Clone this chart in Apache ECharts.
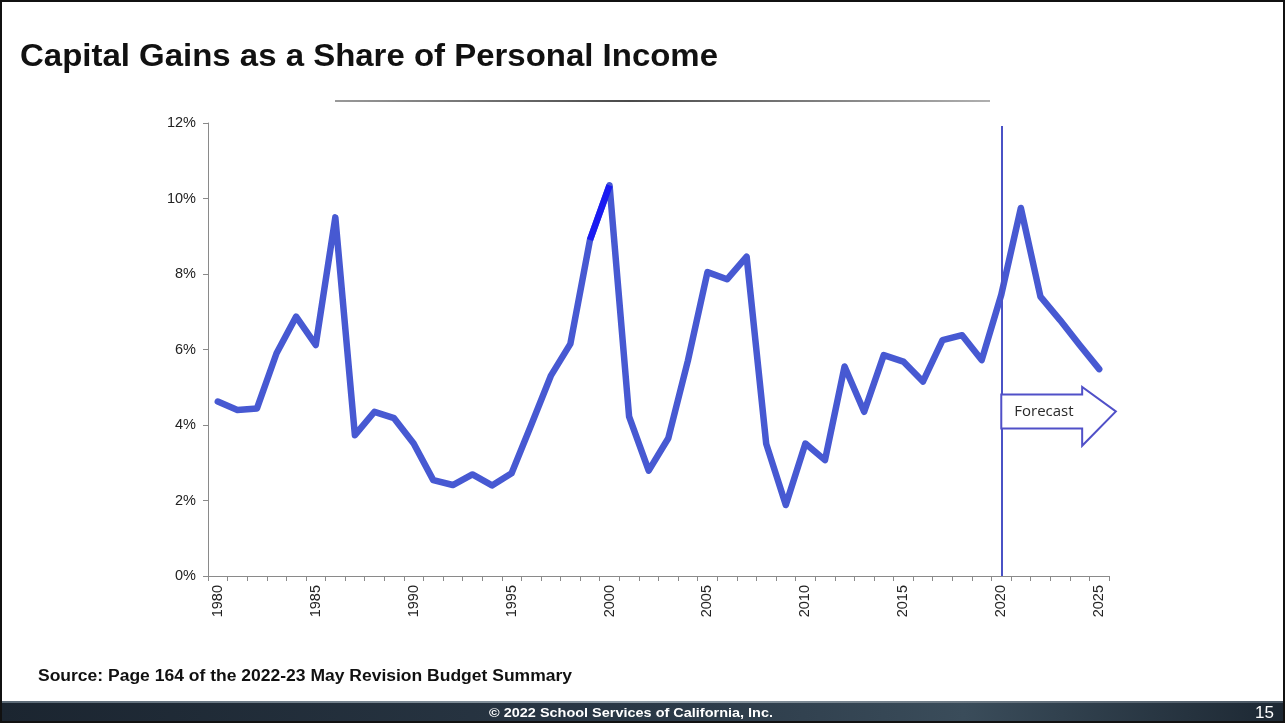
<!DOCTYPE html>
<html>
<head>
<meta charset="utf-8">
<script src="https://cdn.jsdelivr.net/npm/echarts@6/dist/echarts.min.js"></script>
<style>
  html, body { margin: 0; padding: 0; background: #ffffff; }
  #chart { width: 1285px; height: 723px; }
</style>
</head>
<body>
<div id="chart"></div>
<script>
// Years shown on the category axis
const years = [];
for (let y = 1980; y <= 2025; y++) years.push(String(y));

// Capital gains as a share of personal income (%), 1980–2025
const shareValues = [
  4.62, 4.40, 4.44, 5.90, 6.87, 6.12, 9.50, 3.73, 4.35, 4.18,
  3.51, 2.54, 2.41, 2.69, 2.40, 2.72, 4.00, 5.30, 6.15, 8.90,
  10.35, 4.22, 2.79, 3.65, 5.70, 8.05, 7.86, 8.46, 3.50, 1.88,
  3.51, 3.07, 5.55, 4.35, 5.85, 5.68, 5.15, 6.25, 6.38, 5.72,
  7.45, 9.75, 7.40, 6.78, 6.12, 5.48
];

// The 1999–2000 run is drawn in a brighter blue
const highlightYears = ['1999', '2000'];

// Year where the forecast starts
const forecastStart = '2020';

// Text
const titleText = 'Capital Gains as a Share of Personal Income';
const sourceText = 'Source: Page 164 of the 2022-23 May Revision Budget Summary';
const footerText = '\u00A9 2022 School Services of California, Inc.';
const pageNumber = '15';
const forecastLabel = 'Forecast';

const highlightValues = years.map((y, i) => highlightYears.includes(y) ? shareValues[i] : null);

const chart = echarts.init(document.getElementById('chart'), null, { renderer: 'canvas' });

const axisGrey = '#8a8a8a';
const lineBlue = '#4759d2';
const labelFont = '"Liberation Sans", Arial, sans-serif';

// horizontal scale that makes a text run fill a given width
const measureCtx = document.createElement('canvas').getContext('2d');
function fitScale(text, font, width) {
  measureCtx.font = font;
  return width / measureCtx.measureText(text).width;
}

const option = {
  backgroundColor: '#ffffff',
  animation: false,
  grid: { left: 208, right: 176, top: 123, bottom: 147, containLabel: false },
  xAxis: {
    type: 'category',
    data: years,
    boundaryGap: true,
    axisLine: { lineStyle: { color: axisGrey, width: 1 } },
    axisTick: { show: true, interval: 0, length: 5, lineStyle: { color: axisGrey } },
    axisLabel: {
      interval: 4,
      rotate: 90,
      margin: 9,
      fontFamily: labelFont,
      fontSize: 14.5,
      color: '#222222'
    },
    splitLine: { show: false }
  },
  yAxis: {
    type: 'value',
    min: 0,
    max: 12,
    interval: 2,
    axisLine: { show: true, lineStyle: { color: axisGrey, width: 1 } },
    axisTick: { show: true, length: 5, lineStyle: { color: axisGrey } },
    axisLabel: {
      formatter: '{value}%',
      margin: 12,
      fontFamily: labelFont,
      fontSize: 14.5,
      color: '#222222'
    },
    splitLine: { show: false }
  },
  series: [
    {
      type: 'line',
      data: shareValues,
      symbol: 'none',
      lineStyle: { color: lineBlue, width: 6.5, join: 'round', cap: 'round' },
      markLine: {
        silent: true,
        symbol: ['none', 'none'],
        label: { show: false },
        lineStyle: { color: '#4a52c6', width: 2, type: 'solid' },
        data: [[{ coord: [forecastStart, 11.92] }, { coord: [forecastStart, 0] }]]
      },
      z: 3
    },
    {
      type: 'line',
      data: highlightValues,
      symbol: 'none',
      connectNulls: false,
      lineStyle: { color: '#1a1af2', width: 6.5, cap: 'butt' },
      z: 4
    }
  ]
};

chart.setOption(option);

// Texts, frame and annotations positioned around the plot
function drawAnnotations() {
  const startIdx = years.indexOf(forecastStart);
  const x0 = chart.convertToPixel({ xAxisIndex: 0 }, startIdx);
  const x1 = chart.convertToPixel({ xAxisIndex: 0 }, startIdx + 1);
  const step = x1 - x0;
  const py = v => chart.convertToPixel({ yAxisIndex: 0 }, v);

  const shaftTop = py(4.81), shaftBottom = py(3.91);
  const headTop = py(5.01), headBottom = py(3.45);
  const tipY = (shaftTop + shaftBottom) / 2;
  const headBaseX = x0 + step * 4.13;
  const tipX = x0 + step * 5.85;

  const titleFont = 'bold 32px "Liberation Sans", Arial, sans-serif';
  const sourceFont = 'bold 16px "Liberation Sans", Arial, sans-serif';
  const footerFont = 'bold 13px "Liberation Sans", Arial, sans-serif';

  chart.setOption({
    graphic: [
      // slide frame
      {
        type: 'rect', z: 100, silent: true,
        shape: { x: 1, y: 1, width: 1283, height: 721 },
        style: { fill: 'none', stroke: '#111111', lineWidth: 2 }
      },
      // slide title
      {
        type: 'text', z: 7, silent: true,
        x: 20, y: 57,
        scaleX: fitScale(titleText, titleFont, 698),
        style: {
          text: titleText,
          fill: '#111111',
          font: titleFont,
          verticalAlign: 'middle'
        }
      },
      // thin rule under the title
      {
        type: 'line', z: 5, silent: true,
        shape: { x1: 335, y1: 101, x2: 990, y2: 101 },
        style: {
          stroke: new echarts.graphic.LinearGradient(0, 0, 1, 0, [
            { offset: 0, color: '#9a9a9a' },
            { offset: 0.45, color: '#4a4a4a' },
            { offset: 1, color: '#b0b0b0' }
          ]),
          lineWidth: 2
        }
      },
      // forecast arrow
      {
        type: 'polygon', z: 6, silent: true,
        shape: {
          points: [
            [x0, shaftTop], [headBaseX, shaftTop], [headBaseX, headTop],
            [tipX, tipY], [headBaseX, headBottom], [headBaseX, shaftBottom],
            [x0, shaftBottom]
          ]
        },
        style: { fill: '#ffffff', stroke: '#5050c8', lineWidth: 2 }
      },
      {
        type: 'text', z: 7, silent: true,
        x: x0 + 13, y: tipY,
        style: {
          text: forecastLabel,
          fill: '#2a2a2a',
          font: '15px "Open Sans", "Liberation Sans", sans-serif',
          verticalAlign: 'middle'
        }
      },
      // source note
      {
        type: 'text', z: 7, silent: true,
        x: 38, y: 677,
        scaleX: fitScale(sourceText, sourceFont, 534),
        style: {
          text: sourceText,
          fill: '#111111',
          font: sourceFont,
          verticalAlign: 'middle'
        }
      },
      // footer bar
      {
        type: 'rect', z: 8, silent: true,
        shape: { x: 0, y: 701, width: 1285, height: 22 },
        style: {
          fill: new echarts.graphic.LinearGradient(0, 0, 1, 0, [
            { offset: 0, color: '#1b2530' },
            { offset: 0.5, color: '#2a3846' },
            { offset: 0.75, color: '#3a4c5a' },
            { offset: 1, color: '#1d2833' }
          ])
        }
      },
      {
        type: 'rect', z: 9, silent: true,
        shape: { x: 0, y: 701, width: 1285, height: 2 },
        style: {
          fill: new echarts.graphic.LinearGradient(0, 0, 1, 0, [
            { offset: 0, color: '#5c6a76' },
            { offset: 0.5, color: '#8d9aa4' },
            { offset: 1, color: '#4a5763' }
          ])
        }
      },
      {
        type: 'text', z: 10, silent: true,
        x: 489, y: 713,
        scaleX: fitScale(footerText, footerFont, 284),
        style: {
          text: footerText,
          fill: '#ffffff',
          font: footerFont,
          verticalAlign: 'middle'
        }
      },
      {
        type: 'text', z: 10, silent: true,
        x: 1274, y: 713,
        style: {
          text: pageNumber,
          fill: '#ffffff',
          font: '17px "Liberation Sans", Arial, sans-serif',
          align: 'right',
          verticalAlign: 'middle'
        }
      }
    ]
  });
}

drawAnnotations();
</script>
</body>
</html>
